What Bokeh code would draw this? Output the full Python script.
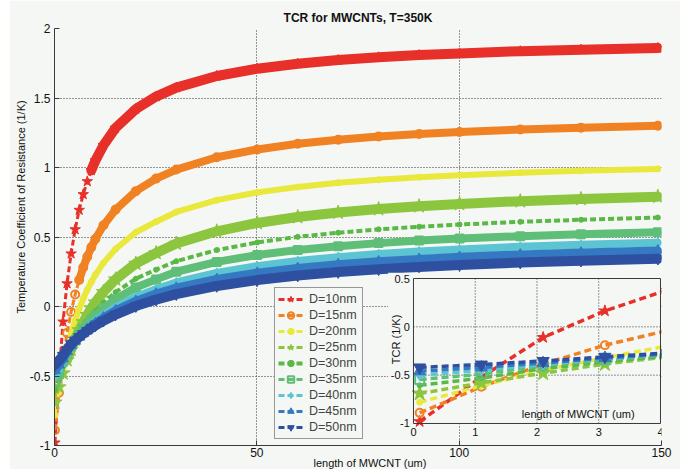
from math import pi
from bokeh.plotting import figure
from bokeh.models import Range1d, FixedTicker, Legend, LegendItem, Spacer, Title
from bokeh.layouts import row
from bokeh.embed import file_html
from bokeh.resources import INLINE
from bokeh.core.properties import value

# ---------------- data ----------------
length_um = [0.1, 1.1, 2.1, 3.1, 4.1, 5.1, 6.1, 7.1, 8.1, 9.1, 10.1, 12.1, 15.1,
             20.1, 25.1, 30.1, 40.1, 50.1, 60.1, 70.1, 80.1, 90.1, 100.1, 115.1, 130.1, 149.1]

tcr_d10 = [-0.98, -0.52, -0.11, 0.165, 0.38, 0.554, 0.694, 0.807, 0.90, 0.98, 1.05, 1.16, 1.285,
           1.42, 1.51, 1.575, 1.658, 1.711, 1.747, 1.773, 1.793, 1.809, 1.821, 1.837, 1.848, 1.86]
tcr_d15 = [-0.89, -0.62, -0.385, -0.19, -0.04, 0.086, 0.191, 0.281, 0.358, 0.426, 0.485, 0.584, 0.697,
           0.83, 0.92, 0.985, 1.074, 1.13, 1.171, 1.20, 1.223, 1.241, 1.255, 1.273, 1.286, 1.30]
tcr_d20 = [-0.78, -0.61, -0.45, -0.32, -0.20, -0.101, -0.017, 0.057, 0.121, 0.177, 0.228, 0.314, 0.414,
           0.534, 0.61, 0.68, 0.765, 0.821, 0.86, 0.89, 0.912, 0.93, 0.945, 0.962, 0.976, 0.99]
tcr_d25 = [-0.69, -0.58, -0.48, -0.385, -0.31, -0.236, -0.17, -0.112, -0.06, -0.012, 0.03, 0.105, 0.196,
           0.309, 0.385, 0.453, 0.541, 0.601, 0.644, 0.676, 0.701, 0.722, 0.738, 0.758, 0.774, 0.79]
tcr_d30 = [-0.605, -0.53, -0.433, -0.362, -0.30, -0.243, -0.193, -0.147, -0.106, -0.068, -0.034, 0.027, 0.103,
           0.20, 0.265, 0.326, 0.406, 0.461, 0.501, 0.531, 0.555, 0.574, 0.59, 0.609, 0.624, 0.64]
tcr_d35 = [-0.545, -0.49, -0.40, -0.342, -0.29, -0.243, -0.201, -0.162, -0.127, -0.095, -0.065, -0.013, 0.053,
           0.137, 0.195, 0.25, 0.321, 0.37, 0.407, 0.434, 0.456, 0.474, 0.489, 0.506, 0.52, 0.535]
tcr_d40 = [-0.50, -0.45, -0.39, -0.33, -0.285, -0.249, -0.216, -0.185, -0.157, -0.131, -0.106, -0.062, -0.005,
           0.069, 0.125, 0.173, 0.242, 0.29, 0.327, 0.355, 0.377, 0.396, 0.411, 0.43, 0.444, 0.459]
tcr_d45 = [-0.46, -0.42, -0.375, -0.322, -0.28, -0.248, -0.219, -0.192, -0.167, -0.143, -0.122, -0.082, -0.031,
           0.037, 0.09, 0.132, 0.195, 0.24, 0.274, 0.301, 0.322, 0.339, 0.354, 0.371, 0.385, 0.40]
tcr_d50 = [-0.42, -0.39, -0.353, -0.31, -0.27, -0.244, -0.219, -0.197, -0.175, -0.155, -0.137, -0.102, -0.058,
           0.003, 0.05, 0.089, 0.148, 0.19, 0.223, 0.248, 0.268, 0.285, 0.299, 0.316, 0.33, 0.344]

series_labels = ["D=10nm", "D=15nm", "D=20nm", "D=25nm", "D=30nm", "D=35nm", "D=40nm", "D=45nm", "D=50nm"]
series = [tcr_d10, tcr_d15, tcr_d20, tcr_d25, tcr_d30, tcr_d35, tcr_d40, tcr_d45, tcr_d50]

x_ticks = [0, 50, 100, 150]
y_ticks = [-1, -0.5, 0, 0.5, 1, 1.5, 2]
y_tick_labels = ["-1", "-0.5", "0", "0.5", "1", "1.5", "2"]
inset_x_ticks = [0, 1, 2, 3, 4]
inset_x_tick_labels = ["0", "1", "2", "3", "4"]
inset_y_ticks = [-1, -0.5, 0, 0.5]
inset_y_tick_labels = ["-1", "-0.5", "0", "0.5"]

# ---------------- styles ----------------
BG = "#f5f7f4"
FONT = "Liberation Sans"
AX = "#3a3a3a"
TXT = "#111111"
colors = ["#e8302a", "#f08224", "#e9e83c", "#8cc63f", "#5ab946", "#5fbe78", "#5cc4d2", "#3479c1", "#2f4fa0"]
markers = ["star", "circle", "circle", "star", "circle", "square", "diamond", "triangle", "inverted_triangle"]
msize = [11, 8, 6, 15, 5, 8, 10, 11, 11]
inset_msize = [12, 8, 6, 16, 5, 9, 11, 12, 12]
hollow = [False, True, False, False, False, True, False, False, False]
band = [10, 8, 6, 10, 0, 8, 8, 9, 10]
band_start = [9, 6, 4, 3, 0, 1, 0, 0, 0]

p = figure(width=671, height=469, x_range=Range1d(0, 150), y_range=Range1d(-1, 2),
           output_backend="svg", toolbar_location=None,
           min_border_left=45, min_border_right=19, min_border_top=28, min_border_bottom=24,
           background_fill_color=BG, border_fill_color=BG, outline_line_color=None)

p.title.text = "TCR for MWCNTs, T=350K"
p.title.align = "center"
p.title.text_font = FONT
p.title.text_font_size = "12px"
p.title.text_font_style = "bold"
p.title.text_color = TXT
p.title.standoff = 7

p.add_layout(Title(text="Temperature Coefficient of Resistance (1/K)", align="left", offset=132,
                   standoff=0, text_font=FONT, text_font_size="11px", text_font_style="normal",
                   text_color=TXT), "left")
p.add_layout(Title(text="length of MWCNT (um)", align="left", offset=259, standoff=-9,
                   text_font=FONT, text_font_size="11px", text_font_style="normal",
                   text_color=TXT), "below")

p.xaxis.ticker = FixedTicker(ticks=x_ticks)
p.yaxis.ticker = FixedTicker(ticks=y_ticks)
p.yaxis.major_label_overrides = {float(t): s for t, s in zip(y_ticks, y_tick_labels)}
for ax in (p.xaxis, p.yaxis):
    ax.major_label_text_font = FONT
    ax.major_label_text_font_size = "12px"
    ax.major_label_text_color = TXT
    ax.axis_line_color = AX
    ax.major_tick_line_color = AX
    ax.major_tick_in = 5
    ax.major_tick_out = 0
    ax.minor_tick_line_color = None
p.xaxis.major_label_standoff = 2
p.yaxis.major_label_standoff = 4
p.grid.grid_line_color = "#333333"
p.grid.grid_line_dash = "1 2"
p.grid.grid_line_width = 1

items = []
for i in range(9):
    ys = series[i]
    c = colors[i]
    if band[i]:
        s = band_start[i]
        p.line(length_um[s:], ys[s:], line_width=band[i], line_color=c, line_join="round", line_cap="round")
    ln = p.line(length_um, ys, line_width=4 if i == 4 else 3, line_color=c, line_dash="6 3")
    sc = p.scatter(length_um, ys, marker=markers[i], size=msize[i], line_color=c,
                   fill_color=None if hollow[i] else c, line_width=2 if hollow[i] else 1)
    items.append(LegendItem(label=series_labels[i], renderers=[ln, sc]))

legend = Legend(items=items, location=(220, 6), padding=3, spacing=0, margin=0,
                label_height=16, glyph_height=16, glyph_width=25, label_standoff=6, label_width=50,
                label_text_font=FONT, label_text_font_size="12.5px",
                border_line_color=AX, border_line_width=1,
                background_fill_color=BG, background_fill_alpha=1)
p.add_layout(legend)

# ---------------- inset (sub-coordinates inside the main frame) ----------------
sub = p.subplot(x_source=Range1d(0, 4), y_source=Range1d(-1, 0.5),
                x_target=Range1d(88.71, 149.75), y_target=Range1d(-0.8417, 0.2014))
sub.quad(left=[-0.41], right=[4.0], bottom=[-1.01], top=[0.56], fill_color=BG, line_color=None)
gx = inset_x_ticks[1:-1]
sub.segment(x0=gx, y0=[-1] * len(gx), x1=gx, y1=[0.5] * len(gx),
            line_color="#333333", line_dash="1 2", line_width=1)
gy = inset_y_ticks[1:-1]
sub.segment(x0=[0] * len(gy), y0=gy, x1=[4] * len(gy), y1=gy,
            line_color="#333333", line_dash="1 2", line_width=1)
for i in range(9):
    ys = series[i]
    c = colors[i]
    sub.line(length_um[:6], ys[:6], line_width=3.5, line_color=c, line_dash="7 4")
    sub.scatter(length_um[:5], ys[:5], marker=markers[i], size=inset_msize[i], line_color=c,
                fill_color=None if hollow[i] else c, line_width=2 if hollow[i] else 1)
sub.quad(left=[0], right=[4], bottom=[-1], top=[0.5], fill_color=None, line_color=AX, line_width=1)
sub.text(x=[-0.06] * len(inset_y_ticks), y=inset_y_ticks, text=inset_y_tick_labels,
         text_font=value(FONT), text_font_size="11px", text_align="right", text_baseline="middle",
         text_color=TXT)
sub.text(x=inset_x_ticks, y=[-1.05] * len(inset_x_ticks), text=inset_x_tick_labels,
         text_font=value(FONT), text_font_size="11px", text_align="center", text_baseline="top",
         text_color=TXT)
sub.text(x=[-0.28], y=[-0.13], text=["TCR (1/K)"], angle=pi / 2,
         text_font=value(FONT), text_font_size="11px", text_align="center", text_baseline="middle",
         text_color=TXT)
sub.text(x=[2.67], y=[-0.90], text=["length of MWCNT (um)"],
         text_font=value(FONT), text_font_size="11px", text_align="center", text_baseline="middle",
         text_color=TXT)

layout = row(Spacer(width=9, height=469), p)
open("out.html", "w").write(file_html(layout, INLINE))
